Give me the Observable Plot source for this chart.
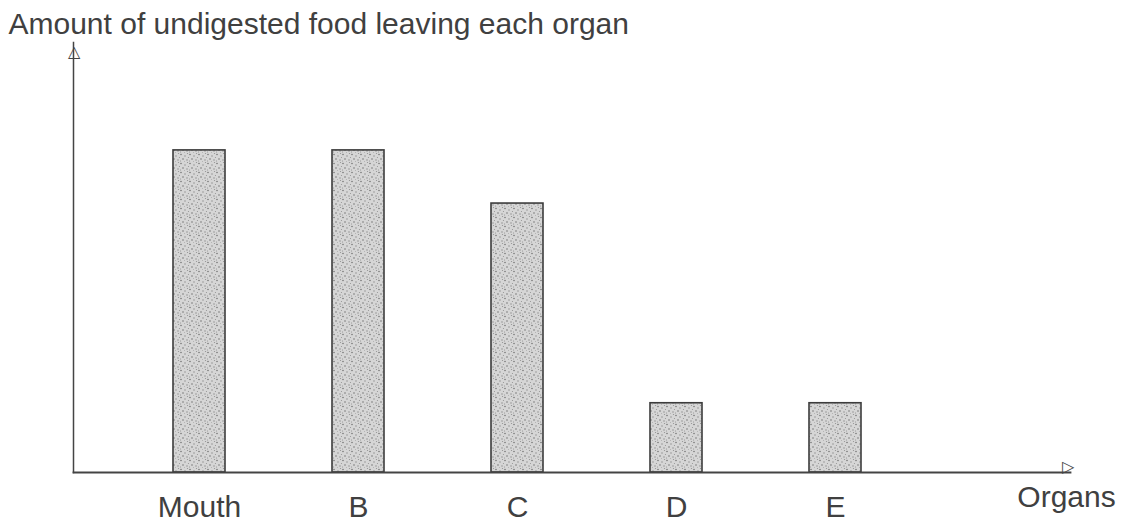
<!DOCTYPE html>
<html>
<head>
<meta charset="utf-8">
<script src="https://cdn.jsdelivr.net/npm/d3@7"></script>
<script src="https://cdn.jsdelivr.net/npm/@observablehq/plot@0.6"></script>
<style>
  html, body { margin: 0; padding: 0; background: #fff; }
  #chart { width: 1128px; height: 522px; }
</style>
</head>
<body>
<svg width="0" height="0" style="position:absolute">
  <defs>
    <pattern id="stipple" width="9" height="9" patternUnits="userSpaceOnUse">
      <rect width="9" height="9" fill="#d6d6d6"/>
      <circle cx="1" cy="1.5" r="0.8" fill="#777"/>
      <circle cx="5" cy="3" r="0.7" fill="#888"/>
      <circle cx="7.5" cy="0.5" r="0.6" fill="#999"/>
      <circle cx="3" cy="6" r="0.8" fill="#777"/>
      <circle cx="7" cy="7" r="0.7" fill="#888"/>
      <circle cx="0.5" cy="8" r="0.6" fill="#999"/>
      <circle cx="4.5" cy="8.5" r="0.5" fill="#aaa"/>
      <circle cx="8.5" cy="4.5" r="0.6" fill="#999"/>
    </pattern>
  </defs>
</svg>
<div id="chart"></div>
<script>
const organs = ["Mouth", "B", "C", "D", "E"];
const amounts = [10, 10, 8.35, 2.15, 2.15];
const titleText = "Amount of undigested food leaving each organ";
const xLabelText = "Organs";

const data = organs.map((o, i) => ({organ: o, amount: amounts[i]}));
const font = "'Liberation Sans', Arial, Helvetica, sans-serif";
const textColor = "#404040";

const chart = Plot.plot({
  width: 1128,
  height: 522,
  marginLeft: 73,
  marginRight: 58,
  marginTop: 42,
  marginBottom: 50,
  style: {fontFamily: font, fontSize: "30px", color: textColor, background: "#fff", overflow: "visible"},
  x: {domain: organs, range: [91, 942], paddingInner: 0.674, paddingOuter: 0.5, label: null},
  y: {domain: [0, 13.35], axis: null},
  marks: [
    Plot.barY(data, {x: "organ", y: "amount", fill: "url(#stipple)", stroke: "#3c3c3c", strokeWidth: 1.6}),
    Plot.frame({anchor: "left", stroke: "#444", strokeWidth: 1.5}),
    Plot.frame({anchor: "bottom", stroke: "#444", strokeWidth: 1.8}),
    Plot.axisX({tickSize: 0, tickPadding: 23, fontSize: 30, fill: textColor, label: null}),
    Plot.text([titleText], {text: d => d, frameAnchor: "top-left", textAnchor: "start", dx: -65, dy: -30, fontSize: 30, fill: textColor}),
    Plot.text([xLabelText], {text: d => d, frameAnchor: "bottom-right", textAnchor: "middle", dx: -4, dy: 34, fontSize: 30, fill: textColor}),
    Plot.text(["△"], {text: d => d, frameAnchor: "top-left", textAnchor: "middle", dy: 3, fontSize: 16, fill: "#444"}),
    Plot.text(["▷"], {text: d => d, frameAnchor: "bottom-right", textAnchor: "middle", dx: -3, dy: -1, fontSize: 16, fill: "#444"})
  ]
});
document.getElementById("chart").appendChild(chart);
</script>
</body>
</html>
